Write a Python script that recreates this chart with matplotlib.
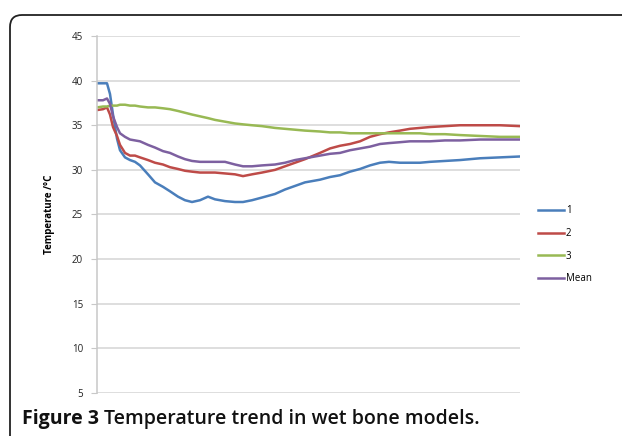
import matplotlib
matplotlib.use('Agg')
import matplotlib.pyplot as plt
from matplotlib.patches import FancyBboxPatch

# time axis (arbitrary units, not labelled in the original)
t = [0, 6, 10, 13, 16, 20, 23, 28, 33, 38, 43, 51, 58, 66, 73, 81, 88, 95, 103, 111,
     118, 128, 138, 146, 155, 165, 178, 188, 198, 208, 223, 233, 243, 253, 263, 273,
     283, 292, 303, 313, 323, 333, 348, 363, 383, 403, 423]

temp1 = [39.7, 39.7, 39.7, 38.5, 36.2, 33.5, 32.2, 31.4, 31.1, 30.9, 30.5, 29.5, 28.6,
         28.1, 27.6, 27.0, 26.6, 26.4, 26.6, 27.0, 26.7, 26.5, 26.4, 26.4, 26.6, 26.9,
         27.3, 27.8, 28.2, 28.6, 28.9, 29.2, 29.4, 29.8, 30.1, 30.5, 30.8, 30.9, 30.8,
         30.8, 30.8, 30.9, 31.0, 31.1, 31.3, 31.4, 31.5]
temp2 = [36.7, 36.8, 37.0, 36.2, 34.8, 33.8, 32.8, 31.9, 31.6, 31.6, 31.4, 31.1, 30.8,
         30.6, 30.3, 30.1, 29.9, 29.8, 29.7, 29.7, 29.7, 29.6, 29.5, 29.3, 29.5, 29.7,
         30.0, 30.4, 30.8, 31.2, 31.9, 32.4, 32.7, 32.9, 33.2, 33.7, 34.0, 34.2, 34.4,
         34.6, 34.7, 34.8, 34.9, 35.0, 35.0, 35.0, 34.9]
temp3 = [37.0, 37.1, 37.1, 37.2, 37.2, 37.2, 37.3, 37.3, 37.2, 37.2, 37.1, 37.0, 37.0,
         36.9, 36.8, 36.6, 36.4, 36.2, 36.0, 35.8, 35.6, 35.4, 35.2, 35.1, 35.0, 34.9,
         34.7, 34.6, 34.5, 34.4, 34.3, 34.2, 34.2, 34.1, 34.1, 34.1, 34.1, 34.1, 34.1,
         34.1, 34.1, 34.0, 34.0, 33.9, 33.8, 33.7, 33.7]
temp_mean = [37.8, 37.8, 38.0, 37.4, 36.0, 34.8, 34.1, 33.7, 33.4, 33.3, 33.2, 32.8, 32.5,
             32.1, 31.9, 31.5, 31.2, 31.0, 30.9, 30.9, 30.9, 30.9, 30.6, 30.4, 30.4, 30.5,
             30.6, 30.8, 31.1, 31.3, 31.6, 31.8, 31.9, 32.2, 32.4, 32.6, 32.9, 33.0, 33.1,
             33.2, 33.2, 33.2, 33.3, 33.3, 33.4, 33.4, 33.4]

labels = ['1', '2', '3', 'Mean']
colors = ['#4a7ebb', '#be4b48', '#98b954', '#7d60a0']
yticks = [5, 10, 15, 20, 25, 30, 35, 40, 45]

plt.rcParams['font.family'] = ['Open Sans', 'DejaVu Sans']

fig = plt.figure(figsize=(6.22, 4.36), dpi=100)

# rounded frame around figure panel (only top-left corner visible)
frame = FancyBboxPatch((10, -30), 660, 451, boxstyle='round,pad=0,rounding_size=12',
                       transform=None, facecolor='none', edgecolor='#222222',
                       linewidth=1.3, zorder=0)
fig.patches.append(frame)

ax = fig.add_axes([97/622, 43/436, 423/622, 357/436])
ax.patch.set_alpha(0)

for y, lab, c in zip([temp1, temp2, temp3, temp_mean], labels, colors):
    ax.plot(t, y, color=c, lw=1.8, label=lab)

ax.set_xlim(0, 423)
ax.set_ylim(5, 45)
ax.set_yticks(yticks)
ax.set_xticks([])
ax.yaxis.grid(True, color='#d4d4d4', lw=1.1)
ax.set_axisbelow(True)
for s in ['top', 'right', 'bottom']:
    ax.spines[s].set_visible(False)
ax.spines['left'].set_color('#c8c8c8')
ax.spines['left'].set_linewidth(1.1)
ax.tick_params(axis='y', length=4, color='#c8c8c8', labelsize=7, pad=6, labelcolor='#222222')

ax.set_ylabel('Temperature /°C', fontsize=7, fontweight='bold', labelpad=12)

ax.legend(loc='center left', bbox_to_anchor=(1.021, 0.415), frameon=False, fontsize=7,
          handlelength=2.7, handletextpad=0.2, labelspacing=1.2)

t1 = fig.text(22/622, 1 - 419/436, 'Figure 3', fontsize=14, fontweight='bold',
              va='center', ha='left', color='#111111')
fig.canvas.draw()
bb = t1.get_window_extent()
fig.text((bb.x1 + 5)/622, 1 - 419/436, 'Temperature trend in wet bone models.',
         fontsize=14, fontweight='semibold', va='center', ha='left', color='#111111')

fig.savefig('out.png', dpi=100)
